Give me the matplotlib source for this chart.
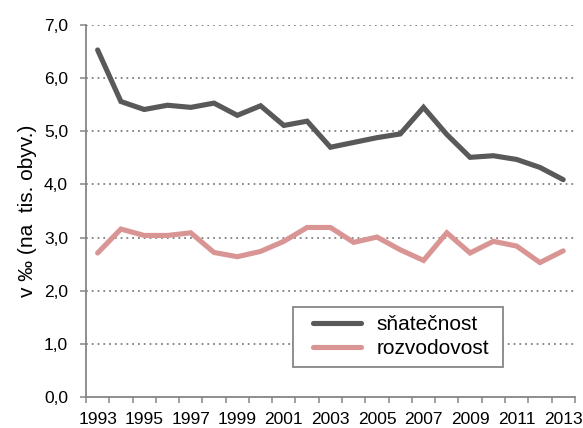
import matplotlib
matplotlib.use("Agg")
import matplotlib.pyplot as plt
from matplotlib.patches import Rectangle
import numpy as np

years = list(range(1993, 2014))
snatecnost = [6.53, 5.56, 5.41, 5.49, 5.45, 5.53, 5.30, 5.48, 5.11, 5.19,
              4.70, 4.79, 4.88, 4.95, 5.45, 4.94, 4.51, 4.54, 4.47, 4.32, 4.09]
rozvodovost = [2.71, 3.16, 3.04, 3.04, 3.09, 2.72, 2.64, 2.74, 2.93, 3.19,
               3.19, 2.91, 3.01, 2.77, 2.57, 3.09, 2.71, 2.93, 2.84, 2.53, 2.75]
yticks = [0, 1, 2, 3, 4, 5, 6, 7]
ylabel = "v ‰ (na  tis. obyv.)"

plt.rcParams['font.family'] = ['Liberation Sans', 'DejaVu Sans']
fig = plt.figure(figsize=(5.83, 4.28), dpi=100)
ax = fig.add_axes([0.1475, 0.0724, 0.8385, 0.8692])

x = np.arange(len(years))
ax.plot(x, snatecnost, color='#595959', lw=3.7, label='sňatečnost', solid_capstyle='round', solid_joinstyle='miter')
ax.plot(x, rozvodovost, color='#D99594', lw=3.7, label='rozvodovost', solid_capstyle='round', solid_joinstyle='miter')

ax.set_xlim(-0.5, len(years) - 0.5)
ax.set_ylim(0, 7)
ax.set_yticks(yticks)
ax.set_yticklabels([f"{v:.1f}".replace('.', ',') for v in yticks], fontsize=12.5)
for v in yticks[1:]:
    ax.axhline(v, color='#808080', lw=1.3, ls=(0, (1, 2.2)), zorder=0)

ax.set_xticks(np.arange(-0.5, len(years) + 0.5, 1))
ax.set_xticklabels([])
ax.set_xticks(x[::2], minor=True)
ax.set_xticklabels([str(years[i]) for i in x[::2]], minor=True, fontsize=12.5)
ax.tick_params(axis='x', which='major', direction='out', length=4.5, width=1.1, color='#868686')
ax.tick_params(axis='x', which='minor', length=0, pad=11)
ax.tick_params(axis='y', direction='out', length=4, width=1.1, color='#868686', pad=9)

for s in ['top', 'right']:
    ax.spines[s].set_visible(False)
for s in ['left', 'bottom']:
    ax.spines[s].set_color('#868686')
    ax.spines[s].set_linewidth(1.3)

ax.set_ylabel(ylabel, fontsize=15, labelpad=5)

# legend frame
ax.add_patch(Rectangle((0.423, 0.081), 0.430, 0.162, transform=ax.transAxes,
                       facecolor='white', edgecolor='#868686', lw=1.3, zorder=4))
leg = ax.legend(loc='center left', bbox_to_anchor=(0.428, 0.162), fontsize=15,
                frameon=False, handlelength=2.3, borderpad=0.35,
                labelspacing=0.25, handletextpad=0.75)
leg.set_zorder(5)

fig.savefig('out.png', dpi=100)
